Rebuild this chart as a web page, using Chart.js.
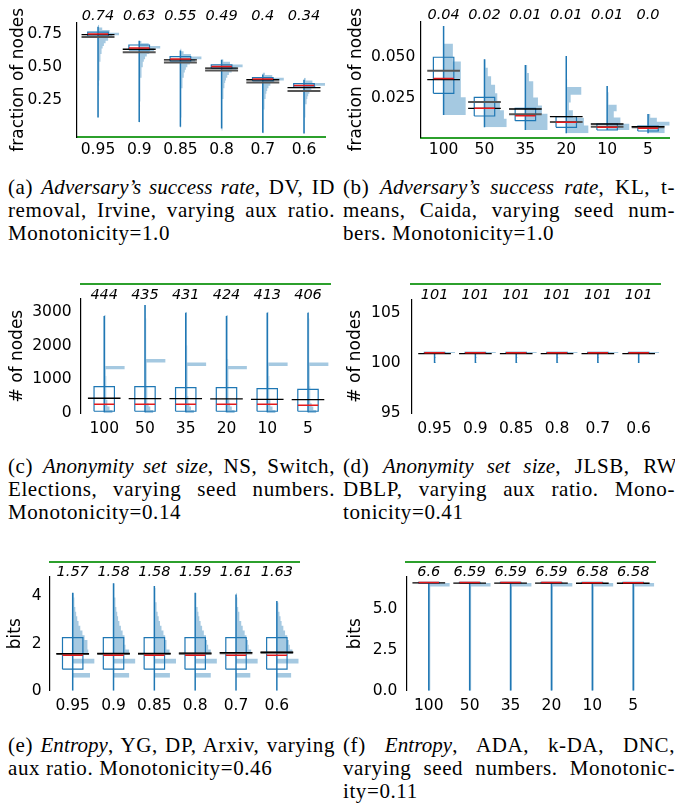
<!DOCTYPE html>
<html><head><meta charset="utf-8">
<script src="https://cdn.jsdelivr.net/npm/chart.js@4/dist/chart.umd.min.js"></script>
<style>
html,body{margin:0;padding:0;background:#fff;}
body{width:675px;height:808px;overflow:hidden;position:relative;}
.cv{position:absolute;}
.cap{position:absolute;font-family:"Liberation Serif","Times New Roman",serif;font-size:21px;letter-spacing:0.6px;line-height:23px;color:#000;}
.cap i{letter-spacing:0.1px;}
.cap div{white-space:nowrap;}
</style></head><body>
<div class="cv" style="left:0;top:0"><canvas id="ca" width="337" height="165"></canvas></div>
<div class="cv" style="left:338px;top:0"><canvas id="cb" width="337" height="165"></canvas></div>
<div class="cv" style="left:0;top:270px"><canvas id="cc" width="337" height="175"></canvas></div>
<div class="cv" style="left:338px;top:270px"><canvas id="cd" width="337" height="175"></canvas></div>
<div class="cv" style="left:0;top:550px"><canvas id="ce" width="337" height="170"></canvas></div>
<div class="cv" style="left:338px;top:550px"><canvas id="cf" width="337" height="170"></canvas></div>

<div class="cap" style="left:8px;top:176px;width:327px">
<div class="j">(a) <i>Adversary’s success rate</i>, DV, ID</div>
<div class="j">removal, Irvine, varying aux ratio.</div>
<div>Monotonicity=1.0</div></div>
<div class="cap" style="left:343px;top:176px;width:332px">
<div class="j">(b) <i>Adversary’s success rate</i>, KL, t-</div>
<div class="j">means, Caida, varying seed num-</div>
<div>bers. Monotonicity=1.0</div></div>
<div class="cap" style="left:8px;top:455px;width:327px">
<div class="j">(c) <i>Anonymity set size</i>, NS, Switch,</div>
<div class="j">Elections, varying seed numbers.</div>
<div>Monotonicity=0.14</div></div>
<div class="cap" style="left:343px;top:455px;width:332px">
<div class="j" data-w="338">(d) <i>Anonymity set size</i>, JLSB, RW,</div>
<div class="j">DBLP, varying aux ratio. Mono-</div>
<div>tonicity=0.41</div></div>
<div class="cap" style="left:8px;top:734px;width:327px">
<div class="j">(e) <i>Entropy</i>, YG, DP, Arxiv, varying</div>
<div>aux ratio. Monotonicity=0.46</div></div>
<div class="cap" style="left:343px;top:734px;width:332px">
<div class="j">(f) <i>Entropy</i>, ADA, k-DA, DNC,</div>
<div class="j">varying seed numbers. Monotonic-</div>
<div>ity=0.11</div></div>

<script>
// ---------------- (a) ----------------
const catsA = ['0.95','0.9','0.85','0.8','0.7','0.6'];
const meanLabelsA = ['0.74','0.63','0.55','0.49','0.4','0.34'];
const yTicksA = [0.25, 0.5, 0.75];
const whiskLoA = [0.12, 0.087, 0.05, 0.037, 0.005, 0.0];
const whiskHiA = [0.805, 0.70, 0.625, 0.555, 0.445, 0.405];
const q1A = [0.735, 0.63, 0.545, 0.492, 0.397, 0.35];
const q3A = [0.765, 0.667, 0.58, 0.517, 0.422, 0.375];
const medA = [0.75, 0.645, 0.562, 0.505, 0.41, 0.362];
const meanA = [0.745, 0.635, 0.555, 0.492, 0.405, 0.345];
const mean2A = [0.728, 0.612, 0.535, 0.475, 0.385, 0.32];
const histLoA = [0.12, 0.08, 0.04, 0.02, 0.0, 0.0];
const histStepA = [0.02, 0.02, 0.02, 0.02, 0.02, 0.02];
const histA = [
  [3,2,2,3,2,4,3,3,4,3,4,4,5,4,5,6,6,7,7,8,9,10,11,13,15,18,22,28,36,48,68,100,55,20,5],
  [2,3,2,3,3,2,4,3,4,4,5,4,5,6,6,7,8,9,10,11,13,15,18,22,28,36,48,70,100,45,10],
  [2,2,3,2,3,3,4,3,4,4,5,5,6,6,7,8,9,10,12,14,17,21,26,33,45,70,100,50,15,4],
  [2,3,2,3,3,4,3,4,4,5,5,6,7,8,9,10,12,14,17,21,27,35,48,72,100,40,8],
  [3,2,3,3,4,3,4,5,5,6,7,8,10,12,14,17,21,27,36,55,100,45,10],
  [3,3,2,3,4,4,5,5,6,7,9,11,13,16,20,26,35,55,100,40,8]
];

// ---------------- (b) ----------------
const catsB = ['100','50','35','20','10','5'];
const meanLabelsB = ['0.04','0.02','0.01','0.01','0.01','0.0'];
const yTicksB = [0.025, 0.05];
const whiskLoB = [0.015, 0.0076, 0.006, 0.004, 0.006, 0.004];
const whiskHiB = [0.0683, 0.0484, 0.045, 0.0504, 0.0324, 0.0156];
const q1B = [0.028, 0.0144, 0.0116, 0.0076, 0.006, 0.0054];
const q3B = [0.0496, 0.0256, 0.019, 0.014, 0.0096, 0.0084];
const medB = [0.0368, 0.019, 0.0146, 0.0106, 0.0076, 0.007];
const meanB = [0.0362, 0.019, 0.0186, 0.014, 0.0096, 0.008];
const mean2B = [0.0415, 0.0228, 0.0154, 0.0108, 0.008, 0.0076];
const histLoB = [0.015, 0.0076, 0.006, 0.004, 0.006, 0.004];
const histStepB = [0.01066, 0.0051, 0.004875, 0.00464, 0.00377, 0.00232];
const histB = [
  [100,78,78,42,2],
  [100,88,70,58,48,30,15,5],
  [100,100,75,57,37,35,16,8],
  [100,80,30,12,20,68,4,3,3,3],
  [100,60,30,43,8,5,3],
  [75,75,100,40,10]
];

// ---------------- (c) ----------------
const catsC = ['100','50','35','20','10','5'];
const meanLabelsC = ['444','435','431','424','413','406'];
const yTicksC = [0, 1000, 2000, 3000];
const whiskLoC = [30, 30, 30, 30, 30, 30];
const whiskHiC = [2873, 3198, 2970, 2873, 2970, 2970];
const q1C = [60, 60, 60, 60, 60, 60];
const q3C = [786, 786, 757, 757, 727, 708];
const medC = [265, 265, 265, 265, 265, 240];
const meanC = [444, 435, 431, 424, 413, 406];
const mean2C = [];
const histLoC = [0, 0, 0, 0, 0, 0];
const histStepC = [100, 100, 100, 100, 100, 100];
const histC = [
  [40,26,18,14,12,11,10,10,9,9,9,8,8,100,8,8,7,7,7,7,6,6,6,6,5,5,5,5,4],
  [40,26,18,14,12,11,10,10,9,9,9,8,8,8,8,100,7,7,7,7,6,6,6,6,5,5,5,5,4,4,4,4],
  [40,26,18,14,12,11,10,10,9,9,9,8,8,8,100,8,7,7,7,7,6,6,6,6,5,5,5,5,4,4],
  [40,26,18,14,12,11,10,10,9,9,9,8,8,100,8,8,7,7,7,7,6,6,6,6,5,5,5,5,4],
  [40,26,18,14,12,11,10,10,9,9,9,8,8,8,100,8,7,7,7,7,6,6,6,6,5,5,5,5,4,4],
  [40,26,18,14,12,11,10,10,9,9,9,8,8,8,100,8,7,7,7,7,6,6,6,6,5,5,5,5,4,4]
];

// ---------------- (d) ----------------
const catsD = ['0.95','0.9','0.85','0.8','0.7','0.6'];
const meanLabelsD = ['101','101','101','101','101','101'];
const yTicksD = [95, 100, 105];
const whiskLoD = [100, 100, 100, 100, 100, 100];
const whiskHiD = [101.05, 101.05, 101.05, 101.05, 101.05, 101.05];
const q1D = [100.99, 100.99, 100.99, 100.99, 100.99, 100.99];
const q3D = [101.06, 101.06, 101.06, 101.06, 101.06, 101.06];
const medD = [101.03, 101.03, 101.03, 101.03, 101.03, 101.03];
const meanD = [100.95, 100.95, 100.95, 100.95, 100.95, 100.95];
const mean2D = [];
const histLoD = [100, 100, 100, 100, 100, 100];
const histStepD = [0.1, 0.1, 0.1, 0.1, 0.1, 0.1];
const histD = [
  [6,2,2,2,2,6,2,2,2,6,100],
  [6,2,2,2,2,6,2,2,2,6,100],
  [6,2,2,2,2,6,2,2,2,6,100],
  [6,2,2,2,2,6,2,2,2,6,100],
  [6,2,2,2,2,6,2,2,2,6,100],
  [6,2,2,2,2,6,2,2,2,6,100]
];

// ---------------- (e) ----------------
const catsE = ['0.95','0.9','0.85','0.8','0.7','0.6'];
const meanLabelsE = ['1.57','1.58','1.58','1.59','1.61','1.63'];
const yTicksE = [0, 2, 4];
const whiskLoE = [0, 0, 0, 0, 0, 0];
const whiskHiE = [4.15, 4.55, 4.44, 4.15, 4.08, 3.8];
const q1E = [0.91, 0.91, 0.91, 0.91, 0.91, 0.91];
const q3E = [2.25, 2.25, 2.25, 2.25, 2.25, 2.25];
const medE = [1.5, 1.5, 1.5, 1.5, 1.5, 1.5];
const meanE = [1.57, 1.58, 1.58, 1.59, 1.61, 1.63];
const mean2E = [1.55, 1.56, 1.56, 1.57, 1.59, 1.61];
const histLoE = [0.55, 0.55, 0.55, 0.55, 0.55, 0.55];
const histStepE = [0.2, 0.2, 0.2, 0.2, 0.2, 0.2];
const histE = [
  [80,0,0,100,0,72,68,68,55,45,35,27,21,16,12,9,7,5],
  [72,0,0,100,0,72,55,52,50,42,34,27,21,17,13,10,8,6,4,3],
  [72,0,0,100,0,70,58,55,50,42,33,26,20,15,12,9,7,5,4],
  [72,0,0,100,0,72,60,55,50,40,32,25,19,15,11,8,6,4],
  [66,0,0,100,0,70,58,55,48,40,31,24,18,14,10,8,5,3],
  [66,0,0,100,0,72,60,55,48,38,30,22,17,12,9,6]
];

// ---------------- (f) ----------------
const catsF = ['100','50','35','20','10','5'];
const meanLabelsF = ['6.6','6.59','6.59','6.59','6.58','6.58'];
const yTicksF = [0, 2.5, 5];
const whiskLoF = [0, 0, 0, 0, 0, 0];
const whiskHiF = [6.62, 6.62, 6.62, 6.62, 6.62, 6.62];
const q1F = [6.58, 6.58, 6.58, 6.58, 6.58, 6.58];
const q3F = [6.64, 6.64, 6.64, 6.64, 6.64, 6.64];
const medF = [6.62, 6.62, 6.62, 6.62, 6.61, 6.61];
const meanF = [6.6, 6.59, 6.59, 6.59, 6.58, 6.58];
const mean2F = [];
const histLoF = [0, 0, 0, 0, 0, 0];
const histStepF = [0.22, 0.22, 0.22, 0.22, 0.22, 0.22];
const histColF = [7,7,7,7,7,7,7,7,7,7,7,7,7,7,7,7,7,7,7,7,7,7,7,7,7,7,7,7,7,100];
const histF = [histColF, histColF, histColF, histColF, histColF, histColF];

// ---------------- caption justification ----------------
document.querySelectorAll('.cap .j').forEach(el => {
  const target = Number(el.dataset.w || el.parentElement.getBoundingClientRect().width);
  el.style.display = 'inline-block';
  el.style.wordSpacing = '0px';
  const w = el.getBoundingClientRect().width;
  const n = (el.textContent.match(/ /g) || []).length;
  el.style.wordSpacing = ((target - w) / n) + 'px';
  el.style.display = 'block';
});

// ---------------- drawing ----------------
Chart.defaults.font.family = "'DejaVu Sans', sans-serif";
Chart.defaults.color = '#000';
const BLUE = '#1f77b4', HIST = 'rgba(31,119,180,0.4)', RED = '#e41a1c', GREEN = '#2ca02c';

function buildDatasets(d) {
  const n = d.cats.length, hw = 0.25, lw = 0.4;
  const ds = [];
  for (let i = 0; i < n; i++) {
    const lo = d.histLo[i], st = d.histStep[i], c = d.hist[i];
    const pts = [{x: i, y: lo}];
    c.forEach((v, k) => {
      const len = i + v / 100 * d.histLen;
      pts.push({x: len, y: lo + k * st}, {x: len, y: lo + (k + 1) * st});
    });
    pts.push({x: i, y: lo + c.length * st});
    ds.push({type: 'line', indexAxis: 'y', data: pts, fill: {value: i}, backgroundColor: HIST,
             borderWidth: 0, pointRadius: 0, order: 10});
  }
  const seg = (arr, f) => {
    const out = [];
    arr.forEach((v, i) => { if (v == null) return; out.push(...f(v, i), {x: null, y: null}); });
    return out;
  };
  const line = (data, color, width, order) => ({type: 'line', data, borderColor: color, borderWidth: width,
    pointRadius: 0, fill: false, spanGaps: false, tension: 0, order, borderCapStyle: 'butt'});
  ds.push(line(seg(d.whiskHi, (v, i) => [{x: i, y: d.whiskLo[i]}, {x: i, y: v}]), BLUE, 1.5, 6));
  ds.push(line(seg(d.q1, (v, i) => [{x: i - hw, y: v}, {x: i + hw, y: v}, {x: i + hw, y: d.q3[i]},
                                     {x: i - hw, y: d.q3[i]}, {x: i - hw, y: v}]), BLUE, 1.2, 5));
  ds.push(line(seg(d.mean2, (v, i) => [{x: i - lw, y: v}, {x: i + lw, y: v}]), '#555', 2, 4));
  ds.push(line(seg(d.mean, (v, i) => [{x: i - lw, y: v}, {x: i + lw, y: v}]), '#000', 1.3, 3));
  ds.push(line(seg(d.med, (v, i) => [{x: i - hw, y: v}, {x: i + hw, y: v}]), RED, 1.5, 2));
  return ds;
}

function makeChart(id, d, L) {
  const tickFont = {size: 15.5, lineHeight: 1};
  const catTicks = s => { s.ticks = d.cats.map((c, i) => ({value: i})); };
  const scales = {
    x: {type: 'linear', position: 'bottom', min: d.xMin, max: d.xMax,
        grid: {display: false, drawTicks: false},
        border: {display: L.greenBottom, color: GREEN, width: 2},
        ticks: {font: tickFont, padding: L.xPad, autoSkip: false, maxRotation: 0,
                callback: (v, i) => d.cats[i]},
        afterBuildTicks: catTicks,
        afterFit: s => { s.height = L.bottomH; }},
    xm: {type: 'linear', position: 'top', weight: 0, min: d.xMin, max: d.xMax,
         grid: {display: false, drawTicks: false}, border: {display: false},
         ticks: {font: {size: 14.5, style: 'italic', lineHeight: 1}, padding: L.meanPad, autoSkip: false,
                 maxRotation: 0, callback: (v, i) => d.meanLabels[i]},
         afterBuildTicks: catTicks,
         afterFit: s => { s.height = L.meanH; }},
    y: {type: 'linear', position: 'left', min: d.yMin, max: d.yMax,
        grid: {display: false, drawTicks: false},
        border: {display: true, color: '#000', width: 1.2},
        ticks: {font: tickFont, padding: L.yPad, callback: v => Number(v).toFixed(d.yDec)},
        afterBuildTicks: s => { s.ticks = d.yTicks.map(v => ({value: v})); },
        title: {display: true, text: d.yTitle, font: {size: 17, lineHeight: 1}, padding: {top: L.titlePad, bottom: 0}},
        afterFit: s => { s.width = L.yW; }}
  };
  if (L.greenH) {
    scales.xg = {type: 'linear', position: 'top', weight: 2, min: d.xMin, max: d.xMax,
      grid: {display: false, drawTicks: false}, ticks: {display: false},
      border: {display: true, color: GREEN, width: 2},
      afterFit: s => { s.height = L.greenH; }};
  }
  new Chart(document.getElementById(id), {
    type: 'line',
    data: {datasets: buildDatasets(d)},
    options: {
      responsive: false, animation: false, devicePixelRatio: 1, events: [],
      layout: {padding: {left: 0, right: L.padR, top: 0, bottom: 0}, autoPadding: false},
      plugins: {legend: {display: false}, tooltip: {enabled: false}},
      scales
    }
  });
}

makeChart('ca', {cats: catsA, meanLabels: meanLabelsA, yTicks: yTicksA, yDec: 2, yTitle: 'fraction of nodes',
  xMin: -0.51, xMax: 5.51, yMin: -0.027, yMax: 0.835, histLen: 0.51,
  whiskLo: whiskLoA, whiskHi: whiskHiA, q1: q1A, q3: q3A, med: medA, mean: meanA, mean2: mean2A,
  histLo: histLoA, histStep: histStepA, hist: histA},
  {yW: 77, padR: 12, bottomH: 28, meanH: 22, greenH: 0, greenBottom: true, xPad: 5.25, meanPad: -0.25, yPad: 15, titlePad: 10.5});

makeChart('cb', {cats: catsB, meanLabels: meanLabelsB, yTicks: yTicksB, yDec: 3, yTitle: 'fraction of nodes',
  xMin: -0.56, xMax: 5.53, yMin: 0.0014, yMax: 0.0709, histLen: 0.54,
  whiskLo: whiskLoB, whiskHi: whiskHiB, q1: q1B, q3: q3B, med: medB, mean: meanB, mean2: mean2B,
  histLo: histLoB, histStep: histStepB, hist: histB},
  {yW: 82.7, padR: 5.3, bottomH: 27.3, meanH: 21.7, greenH: 0, greenBottom: true, xPad: 4.5, meanPad: -0.5, yPad: 5.4, titlePad: 10.5});

makeChart('cc', {cats: catsC, meanLabels: meanLabelsC, yTicks: yTicksC, yDec: 0, yTitle: '# of nodes',
  xMin: -0.57, xMax: 5.54, yMin: 0, yMax: 3375, histLen: 0.5,
  whiskLo: whiskLoC, whiskHi: whiskHiC, q1: q1C, q3: q3C, med: medC, mean: meanC, mean2: mean2C,
  histLo: histLoC, histStep: histStepC, hist: histC},
  {yW: 81, padR: 7, bottomH: 31.7, meanH: 15, greenH: 14, greenBottom: false, xPad: 8, meanPad: -3.25, yPad: 9.3, titlePad: 9});

makeChart('cd', {cats: catsD, meanLabels: meanLabelsD, yTicks: yTicksD, yDec: 0, yTitle: '# of nodes',
  xMin: -0.57, xMax: 5.54, yMin: 95, yMax: 106.35, histLen: 0.5,
  whiskLo: whiskLoD, whiskHi: whiskHiD, q1: q1D, q3: q3D, med: medD, mean: meanD, mean2: mean2D,
  histLo: histLoD, histStep: histStepD, hist: histD},
  {yW: 73.3, padR: 14.3, bottomH: 31.7, meanH: 15.3, greenH: 14, greenBottom: false, xPad: 7.5, meanPad: -3, yPad: 10.6, titlePad: 9});

makeChart('ce', {cats: catsE, meanLabels: meanLabelsE, yTicks: yTicksE, yDec: 0, yTitle: 'bits',
  xMin: -0.556, xMax: 5.55, yMin: 0, yMax: 4.83, histLen: 0.53,
  whiskLo: whiskLoE, whiskHi: whiskHiE, q1: q1E, q3: q3E, med: medE, mean: meanE, mean2: mean2E,
  histLo: histLoE, histStep: histStepE, hist: histE},
  {yW: 50, padR: 37.7, bottomH: 29.3, meanH: 14.4, greenH: 12.3, greenBottom: false, xPad: 7.5, meanPad: -3.25, yPad: 8.3, titlePad: 7.2});

makeChart('cf', {cats: catsF, meanLabels: meanLabelsF, yTicks: yTicksF, yDec: 1, yTitle: 'bits',
  xMin: -0.55, xMax: 5.54, yMin: 0, yMax: 6.98, histLen: 0.51,
  whiskLo: whiskLoF, whiskHi: whiskHiF, q1: q1F, q3: q3F, med: medF, mean: meanF, mean2: mean2F,
  histLo: histLoF, histStep: histStepF, hist: histF},
  {yW: 68.3, padR: 19.7, bottomH: 29.3, meanH: 14.4, greenH: 12.3, greenBottom: false, xPad: 7.5, meanPad: -3.25, yPad: 9, titlePad: 9.5});
</script>
</body></html>
